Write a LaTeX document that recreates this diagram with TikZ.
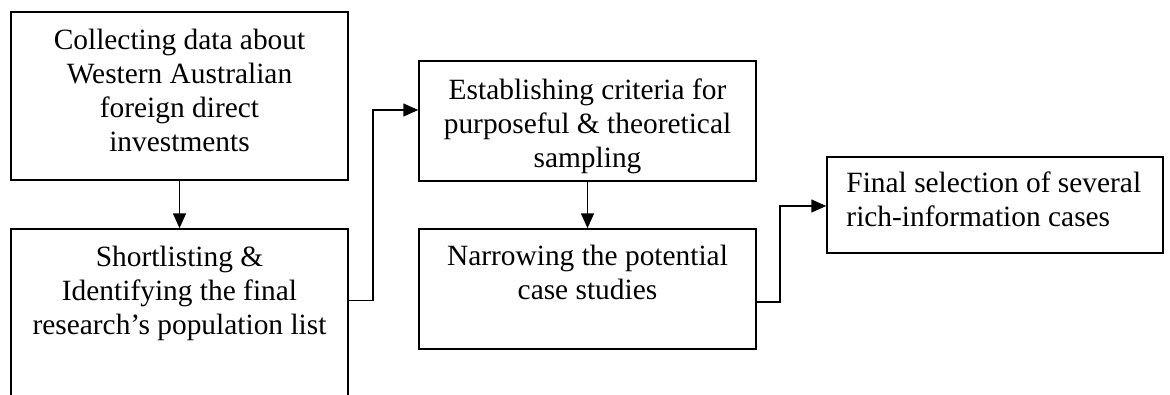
\documentclass[tikz,border=0pt]{standalone}
\usepackage{fontspec}
\setmainfont{Liberation Serif}
\usetikzlibrary{arrows.meta}
\begin{document}
\begin{tikzpicture}[x=1pt,y=-1pt,
  box/.style={draw, line width=1.5pt, rectangle, inner sep=0pt},
  txt/.style={inner sep=0pt, align=center, anchor=north, font=\fontsize{29.4}{34}\selectfont},
  flow/.style={line width=1.5pt, -{Triangle[length=15pt,width=13pt]}}
]
\useasboundingbox (0,0) rectangle (1170,394);
\clip (0,0) rectangle (1170,394);

% process boxes
\node[box, minimum width=337pt, minimum height=168pt] (A) at (179.5,96) {};
\node[box, minimum width=337pt, minimum height=200pt] (B) at (179.5,329) {};
\node[box, minimum width=337pt, minimum height=120pt] (C) at (587.5,121) {};
\node[box, minimum width=337pt, minimum height=120pt] (D) at (587.5,289) {};
\node[box, minimum width=336pt, minimum height=96pt] (E) at (995,205) {};

% box texts
\node[txt] (tA) at ([yshift=-17.5pt]A.north) {Collecting data about\\Western Australian\\foreign direct\\investments};
\node[txt] (tB) at ([yshift=-17.5pt]B.north) {Shortlisting \&\\Identifying the final\\research’s population list};
\node[txt] (tC) at ([yshift=-18.5pt]C.north) {Establishing criteria for\\purposeful \& theoretical\\sampling};
\node[txt] (tD) at ([yshift=-17pt]D.north) {Narrowing the potential\\case studies};
\node[txt, anchor=north west, align=left] (tE) at ([xshift=20pt,yshift=-15.5pt]E.north west) {Final selection of several\\rich-information cases};

% connectors
\draw[flow] (A.south) -- (B.north);
\draw[flow] ([yshift=-72pt]B.north east) -- ++(24,0) |- ([yshift=11pt]C.west);
\draw[flow] (C.south) -- (D.north);
\draw[flow] ([yshift=-13pt]D.east) -- ++(23,0) |- ([yshift=-1pt]E.west);
\end{tikzpicture}
\end{document}
